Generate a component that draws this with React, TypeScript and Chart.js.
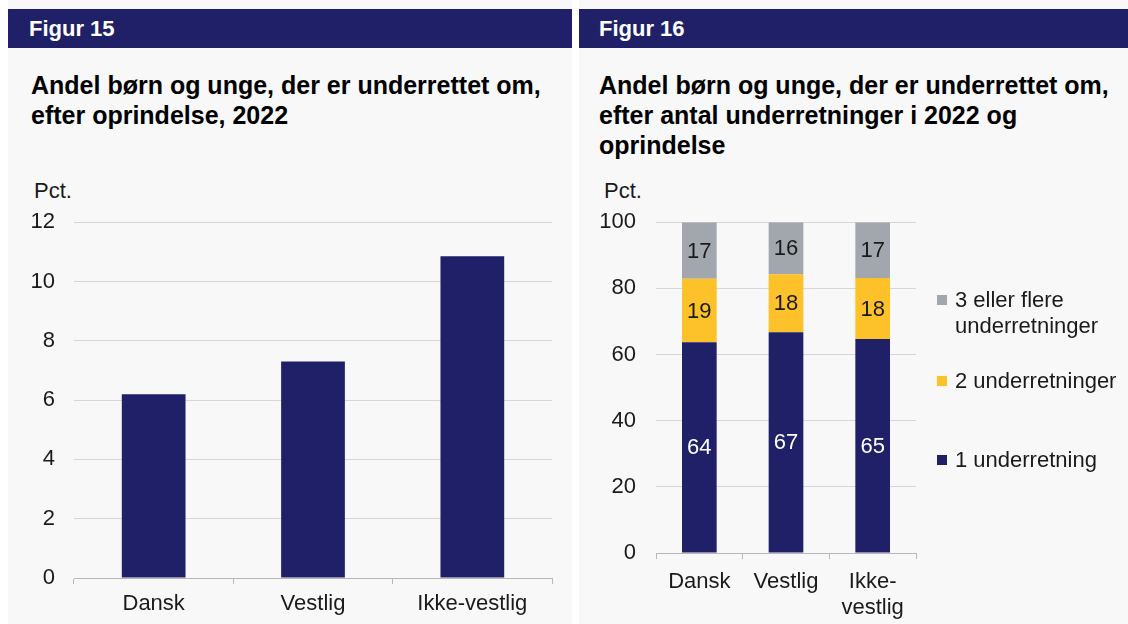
import React, { useEffect, useRef } from "react";
import { Chart, registerables } from "chart.js";

Chart.register(...registerables);

// ---- Data ----
const categoriesFig15 = ["Dansk", "Vestlig", "Ikke-vestlig"];
const valuesFig15 = [6.2, 7.3, 10.85];

const categoriesFig16: (string | string[])[] = ["Dansk", "Vestlig", ["Ikke-", "vestlig"]];
const oneNotice = [63.7, 66.7, 64.7];
const twoNotices = [19.2, 17.6, 18.4];
const threePlusNotices = [17.1, 15.7, 16.9];
const seriesNamesFig16 = ["1 underretning", "2 underretninger", "3 eller flere underretninger"];

const NAVY = "#1f2068";
const GOLD = "#fdc12a";
const GREY = "#a2a7ae";
const TEXT = "#1a1a1a";
const FONT = "'Liberation Sans', Arial, sans-serif";
const PANEL_BG = "#f8f8f8";
const FS = 22;

const barLabelsPlugin = {
  id: "barLabels",
  afterDatasetsDraw(chart: any) {
    const ctx = chart.ctx;
    ctx.save();
    ctx.font = `${FS}px ${FONT}`;
    ctx.textAlign = "center";
    ctx.textBaseline = "middle";
    chart.data.datasets.forEach((ds: any, i: number) => {
      const meta = chart.getDatasetMeta(i);
      meta.data.forEach((bar: any, j: number) => {
        const v = ds.data[j] as number;
        const p = bar.getProps(["x", "y", "base"], true);
        ctx.fillStyle = i === 0 ? "#ffffff" : TEXT;
        ctx.fillText(String(Math.round(v)), p.x, (p.y + p.base) / 2 + 1);
      });
    });
    ctx.restore();
  },
};

function Fig15Chart() {
  const ref = useRef<HTMLCanvasElement>(null);
  useEffect(() => {
    if (!ref.current) return;
    const chart = new Chart(ref.current, {
      type: "bar",
      data: {
        labels: categoriesFig15,
        datasets: [
          {
            data: valuesFig15,
            backgroundColor: NAVY,
            barPercentage: 0.8,
            categoryPercentage: 0.5,
          },
        ],
      },
      options: {
        animation: false,
        responsive: false,
        devicePixelRatio: 1,
        layout: { padding: { top: 10, right: 20, left: 0, bottom: 0 } },
        plugins: { legend: { display: false }, tooltip: { enabled: false } },
        scales: {
          x: {
            grid: {
              offset: true,
              drawOnChartArea: false,
              drawTicks: true,
              tickLength: 6,
              color: "#b8b8b8",
            },
            border: { display: true, color: "#b8b8b8" },
            ticks: { font: { family: FONT, size: FS, lineHeight: 1.2 }, color: TEXT, padding: 7 },
            afterFit: (s: any) => {
              s.height = 46;
            },
          },
          y: {
            min: 0,
            max: 12,
            ticks: { stepSize: 2, font: { family: FONT, size: FS }, color: TEXT, padding: 19 },
            grid: { color: "#d6d6d6", drawTicks: false },
            border: { display: false },
            afterFit: (s: any) => {
              s.width = 66;
            },
          },
        },
      },
    });
    return () => chart.destroy();
  }, []);
  return <canvas ref={ref} width={564} height={434} style={{ display: "block" }} />;
}

function Fig16Chart() {
  const ref = useRef<HTMLCanvasElement>(null);
  useEffect(() => {
    if (!ref.current) return;
    const common = { barPercentage: 0.8, categoryPercentage: 0.5 };
    const chart = new Chart(ref.current, {
      type: "bar",
      data: {
        labels: categoriesFig16 as any,
        datasets: [
          { label: seriesNamesFig16[0], data: oneNotice, backgroundColor: NAVY, ...common },
          { label: seriesNamesFig16[1], data: twoNotices, backgroundColor: GOLD, ...common },
          { label: seriesNamesFig16[2], data: threePlusNotices, backgroundColor: GREY, ...common },
        ],
      },
      options: {
        animation: false,
        responsive: false,
        devicePixelRatio: 1,
        layout: { padding: { top: 10, right: 212, left: 0, bottom: 0 } },
        plugins: { legend: { display: false }, tooltip: { enabled: false } },
        scales: {
          x: {
            stacked: true,
            grid: {
              offset: true,
              drawOnChartArea: false,
              drawTicks: true,
              tickLength: 6,
              color: "#b8b8b8",
            },
            border: { display: true, color: "#b8b8b8" },
            ticks: {
              font: { family: FONT, size: FS, lineHeight: 1.18 },
              color: TEXT,
              padding: 10,
              maxRotation: 0,
            },
            afterFit: (s: any) => {
              s.height = 71;
            },
          },
          y: {
            stacked: true,
            min: 0,
            max: 100,
            ticks: { stepSize: 20, font: { family: FONT, size: FS }, color: TEXT, padding: 20 },
            grid: { color: "#d6d6d6", drawTicks: false },
            border: { display: false },
            afterFit: (s: any) => {
              s.width = 77;
            },
          },
        },
      },
      plugins: [barLabelsPlugin],
    });
    return () => chart.destroy();
  }, []);
  return <canvas ref={ref} width={549} height={435} style={{ display: "block" }} />;
}

const headerStyle: React.CSSProperties = {
  position: "absolute",
  left: 0,
  right: 0,
  top: 9,
  height: 39,
  background: NAVY,
  color: "#fff",
  fontFamily: FONT,
  fontWeight: "bold",
  fontSize: 22,
  lineHeight: "39px",
};

const titleStyle: React.CSSProperties = {
  position: "absolute",
  top: 70,
  fontFamily: FONT,
  fontWeight: "bold",
  fontSize: 25,
  lineHeight: "30px",
  color: "#000",
  margin: 0,
  whiteSpace: "nowrap",
};

const pctStyle: React.CSSProperties = {
  position: "absolute",
  top: 178,
  fontFamily: FONT,
  fontSize: FS,
  lineHeight: "26px",
  color: TEXT,
};

const legendItems = [
  { color: GREY, lines: ["3 eller flere", "underretninger"], top: 287 },
  { color: GOLD, lines: ["2 underretninger"], top: 368 },
  { color: NAVY, lines: ["1 underretning"], top: 447 },
];

export default function App() {
  return (
    <div
      style={{
        position: "fixed",
        left: 0,
        top: 0,
        width: 1128,
        height: 624,
        background: "#fff",
        overflow: "hidden",
      }}
    >
      {/* Figure 15 panel */}
      <div
        style={{ position: "absolute", left: 8, top: 0, width: 564, height: 624, background: PANEL_BG }}
      >
        <div style={{ ...headerStyle, paddingLeft: 21 }}>Figur 15</div>
        <div style={{ ...titleStyle, left: 23 }}>
          Andel børn og unge, der er underrettet om,
          <br />
          efter oprindelse, 2022
        </div>
        <div style={{ ...pctStyle, left: 26 }}>Pct.</div>
        <div style={{ position: "absolute", left: 0, top: 190 }}>
          <Fig15Chart />
        </div>
      </div>

      {/* Figure 16 panel */}
      <div
        style={{ position: "absolute", left: 579, top: 0, width: 549, height: 624, background: PANEL_BG }}
      >
        <div style={{ ...headerStyle, paddingLeft: 20 }}>Figur 16</div>
        <div style={{ ...titleStyle, left: 20 }}>
          Andel børn og unge, der er underrettet om,
          <br />
          efter antal underretninger i 2022 og
          <br />
          oprindelse
        </div>
        <div style={{ ...pctStyle, left: 25 }}>Pct.</div>
        <div style={{ position: "absolute", left: 0, top: 189 }}>
          <Fig16Chart />
        </div>
        {legendItems.map((it, i) => (
          <div key={i} style={{ position: "absolute", left: 358, top: it.top }}>
            <div
              style={{
                position: "absolute",
                left: 0,
                top: 8,
                width: 10,
                height: 10,
                background: it.color,
              }}
            />
            <div
              style={{
                position: "absolute",
                left: 18,
                top: 0,
                fontFamily: FONT,
                fontSize: FS,
                lineHeight: "26px",
                color: TEXT,
                whiteSpace: "nowrap",
              }}
            >
              {it.lines.map((l, k) => (
                <div key={k}>{l}</div>
              ))}
            </div>
          </div>
        ))}
      </div>
    </div>
  );
}
